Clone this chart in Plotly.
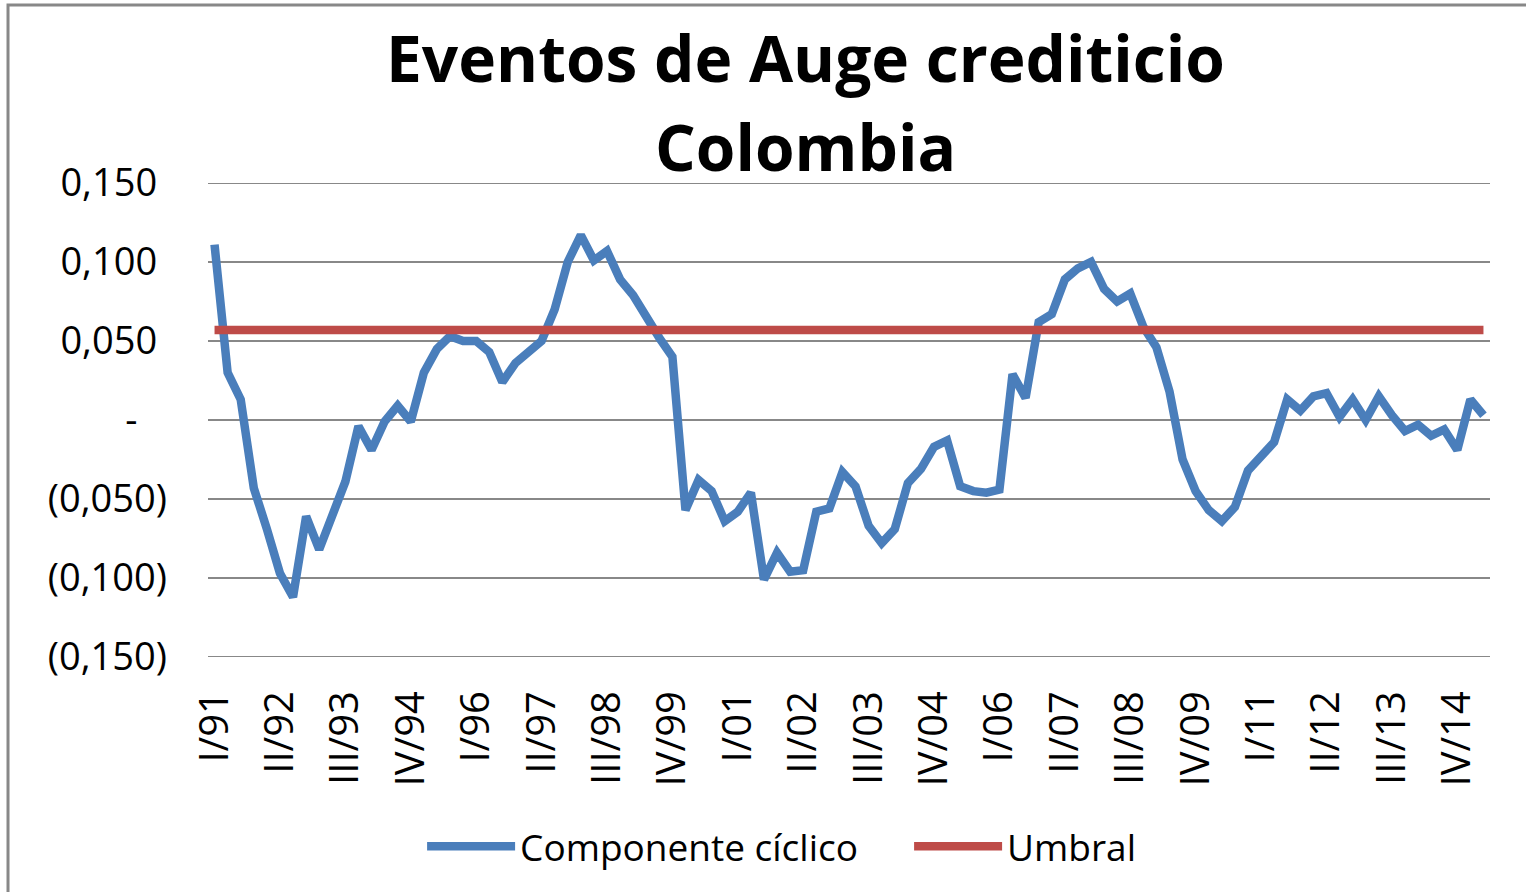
import plotly.graph_objects as go

# Quarterly periods, I/91 .. II/15
ROMANOS = ["I", "II", "III", "IV"]
periodos = [f"{q}/{str(a)[2:]}" for a in range(1991, 2016) for q in ROMANOS][:98]

# Componente cíclico
ciclico = [
    0.111, 0.030, 0.013, -0.043, -0.069, -0.097, -0.112, -0.061, -0.082, -0.060,
    -0.039, -0.004, -0.019, -0.001, 0.009, -0.001, 0.030, 0.045, 0.053, 0.050,
    0.050, 0.043, 0.024, 0.036, 0.043, 0.050, 0.070, 0.100, 0.117, 0.101,
    0.107, 0.089, 0.079, 0.065, 0.052, 0.040, -0.057, -0.038, -0.045, -0.064,
    -0.058, -0.046, -0.101, -0.084, -0.096, -0.095, -0.058, -0.056, -0.033, -0.042,
    -0.067, -0.078, -0.069, -0.040, -0.031, -0.017, -0.013, -0.042, -0.045, -0.046,
    -0.044, 0.029, 0.014, 0.062, 0.067, 0.089, 0.096, 0.100, 0.083, 0.075,
    0.080, 0.059, 0.046, 0.018, -0.025, -0.045, -0.057, -0.064, -0.055, -0.032,
    -0.022, -0.014, 0.013, 0.006, 0.015, 0.017, 0.002, 0.013, 0.000, 0.015,
    0.003, -0.007, -0.003, -0.010, -0.006, -0.019, 0.013, 0.003,
]

UMBRAL = 0.057
umbral = [UMBRAL] * len(periodos)

# Axis ticks
X_TICKS = ["I/91", "II/92", "III/93", "IV/94", "I/96", "II/97", "III/98", "IV/99",
           "I/01", "II/02", "III/03", "IV/04", "I/06", "II/07", "III/08", "IV/09",
           "I/11", "II/12", "III/13", "IV/14"]
Y_TICKS = [0.15, 0.10, 0.05, 0.0, -0.05, -0.10, -0.15]
Y_LABELS = ["0,150\u00a0", "0,100\u00a0", "0,050\u00a0", "-\u00a0\u00a0\u00a0",
            "(0,050)", "(0,100)", "(0,150)"]

FONT = "Open Sans"
GRID = "#888888"

fig = go.Figure()

fig.add_trace(go.Scatter(
    x=periodos, y=ciclico, mode="lines", name="Componente cíclico",
    line=dict(color="#4A7EBB", width=8.5),
))
fig.add_trace(go.Scatter(
    x=periodos, y=umbral, mode="lines", name="Umbral",
    line=dict(color="#BE4B48", width=8.5),
))

# gridlines at the range ends (plotly drops those)
edge_lines = [
    dict(type="line", xref="paper", yref="y", x0=0, x1=1, y0=v, y1=v,
         line=dict(color=GRID, width=2), layer="below")
    for v in (Y_TICKS[0], Y_TICKS[-1])
]

fig.update_layout(
    width=1526, height=892,
    margin=dict(l=208, r=36, t=183, b=235, autoexpand=False),
    paper_bgcolor="white", plot_bgcolor="white",
    font=dict(family=FONT, size=37, color="black"),
    showlegend=True,
    legend=dict(
        orientation="h", x=0.167, xanchor="left", y=-0.40, yanchor="middle",
        font=dict(size=37), itemwidth=88, entrywidth=384,
    ),
    xaxis=dict(
        type="category", range=[-0.5, len(periodos) - 0.5],
        tickmode="array", tickvals=X_TICKS, ticktext=X_TICKS,
        tickangle=-90, showgrid=False, zeroline=False, showline=False,
        ticks="", ticklabelstandoff=25, tickfont=dict(size=40), automargin=False,
    ),
    yaxis=dict(
        range=[-0.15, 0.15], tickmode="array", tickvals=Y_TICKS, ticktext=Y_LABELS,
        showgrid=True, gridcolor=GRID, gridwidth=2,
        zeroline=False, showline=False, ticks="", ticklabelstandoff=40,
        tickfont=dict(size=38), automargin=False,
    ),
    annotations=[
        dict(text="<b>Eventos de Auge crediticio</b>", xref="paper", yref="paper",
             x=0.466, y=1.264, xanchor="center", yanchor="middle",
             showarrow=False, font=dict(size=64, family=FONT)),
        dict(text="<b>Colombia</b>", xref="paper", yref="paper",
             x=0.466, y=1.076, xanchor="center", yanchor="middle",
             showarrow=False, font=dict(size=64, family=FONT)),
    ],
    shapes=edge_lines + [
        dict(type="rect", xref="paper", yref="paper",
             x0=-0.156, x1=1.2, y0=-0.7, y1=1.3755,
             line=dict(color=GRID, width=3), layer="below"),
    ],
)

fig.write_html("out.html", config={"displayModeBar": False},
               post_script="document.body.style.margin = '0';")
